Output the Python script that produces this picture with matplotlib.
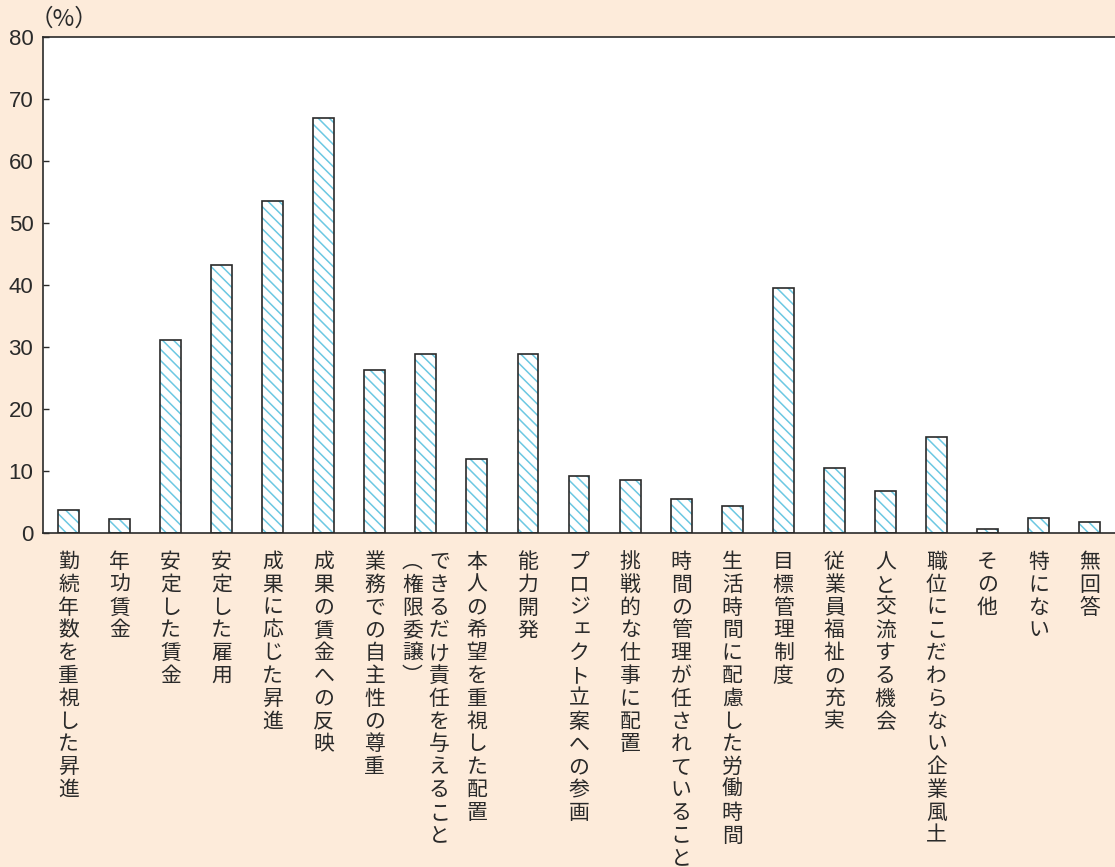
import matplotlib
matplotlib.use("Agg")
import matplotlib.pyplot as plt

# Data
categories = [
    "勤続年数を重視した昇進",
    "年功賃金",
    "安定した賃金",
    "安定した雇用",
    "成果に応じた昇進",
    "成果の賃金への反映",
    "業務での自主性の尊重",
    "できるだけ責任を与えること\n（権限委譲）",
    "本人の希望を重視した配置",
    "能力開発",
    "プロジェクト立案への参画",
    "挑戦的な仕事に配置",
    "時間の管理が任されていること",
    "生活時間に配慮した労働時間",
    "目標管理制度",
    "従業員福祉の充実",
    "人と交流する機会",
    "職位にこだわらない企業風土",
    "その他",
    "特にない",
    "無回答",
]
values = [3.7, 2.2, 31.1, 43.3, 53.5, 67.0, 26.3, 28.8, 12.0, 28.9,
          9.2, 8.5, 5.5, 4.4, 39.5, 10.5, 6.8, 15.5, 0.6, 2.4, 1.8]
yticks = [0, 10, 20, 30, 40, 50, 60, 70, 80]

BG = "#FDEBDA"
HATCH = "#6CC8E2"
INK = "#2a2a2a"
PX = 0.72  # points per pixel at dpi 100
JP = ["Noto Sans CJK JP", "DejaVu Sans"]

fig = plt.figure(figsize=(11.15, 8.67), dpi=100)
fig.patch.set_facecolor(BG)
ax = fig.add_axes([0.0386, 0.3852, 0.9614, 0.5721])
ax.set_facecolor("white")

plt.rcParams["hatch.linewidth"] = 1.1
x = list(range(len(categories)))
# hatch layer, then outline layer
ax.bar(x, values, width=0.41, facecolor="white", edgecolor=HATCH,
       hatch="\\\\\\", linewidth=0, zorder=2)
ax.bar(x, values, width=0.41, fill=False, edgecolor=INK,
       linewidth=1.2, zorder=3)

ax.set_xlim(-0.5, len(categories) - 0.5)
ax.set_ylim(0, 80)
ax.set_yticks(yticks)
ax.set_yticklabels([str(v) for v in yticks], family="Liberation Sans",
                   fontsize=16, color=INK)
ax.tick_params(axis="y", direction="in", length=4, width=1, color=INK, pad=7)
ax.set_xticks([])

for s in ["left", "top", "bottom"]:
    ax.spines[s].set_color(INK)
    ax.spines[s].set_linewidth(1.2)
ax.spines["right"].set_visible(False)

# vertical (tategaki) category labels
vert = {"（": "︵", "）": "︶"}
small = set("ァィゥェォッャュョぁぃぅぇぉっゃゅょ")
for i, lab in enumerate(categories):
    cols = lab.split("\n")
    n = len(cols)
    for c, col in enumerate(cols):
        dx = ((n - 1) / 2 - c) * 27
        for k, ch in enumerate(col):
            ox, oy = dx, -(35 + k * 22.8)
            if ch in small:
                ox += 3
                oy += 3
            ax.annotate(vert.get(ch, ch), xy=(i, 0),
                        xycoords=("data", "axes fraction"),
                        xytext=(ox * PX, oy * PX), textcoords="offset points",
                        ha="center", va="baseline", fontsize=15,
                        family=JP, color=INK, annotation_clip=False)

fig.text(30 / 1115, 1 - 19 / 867, "（%）", family=JP, fontsize=17,
         color=INK, ha="left", va="center")

fig.savefig("out.png", dpi=100, facecolor=BG)
